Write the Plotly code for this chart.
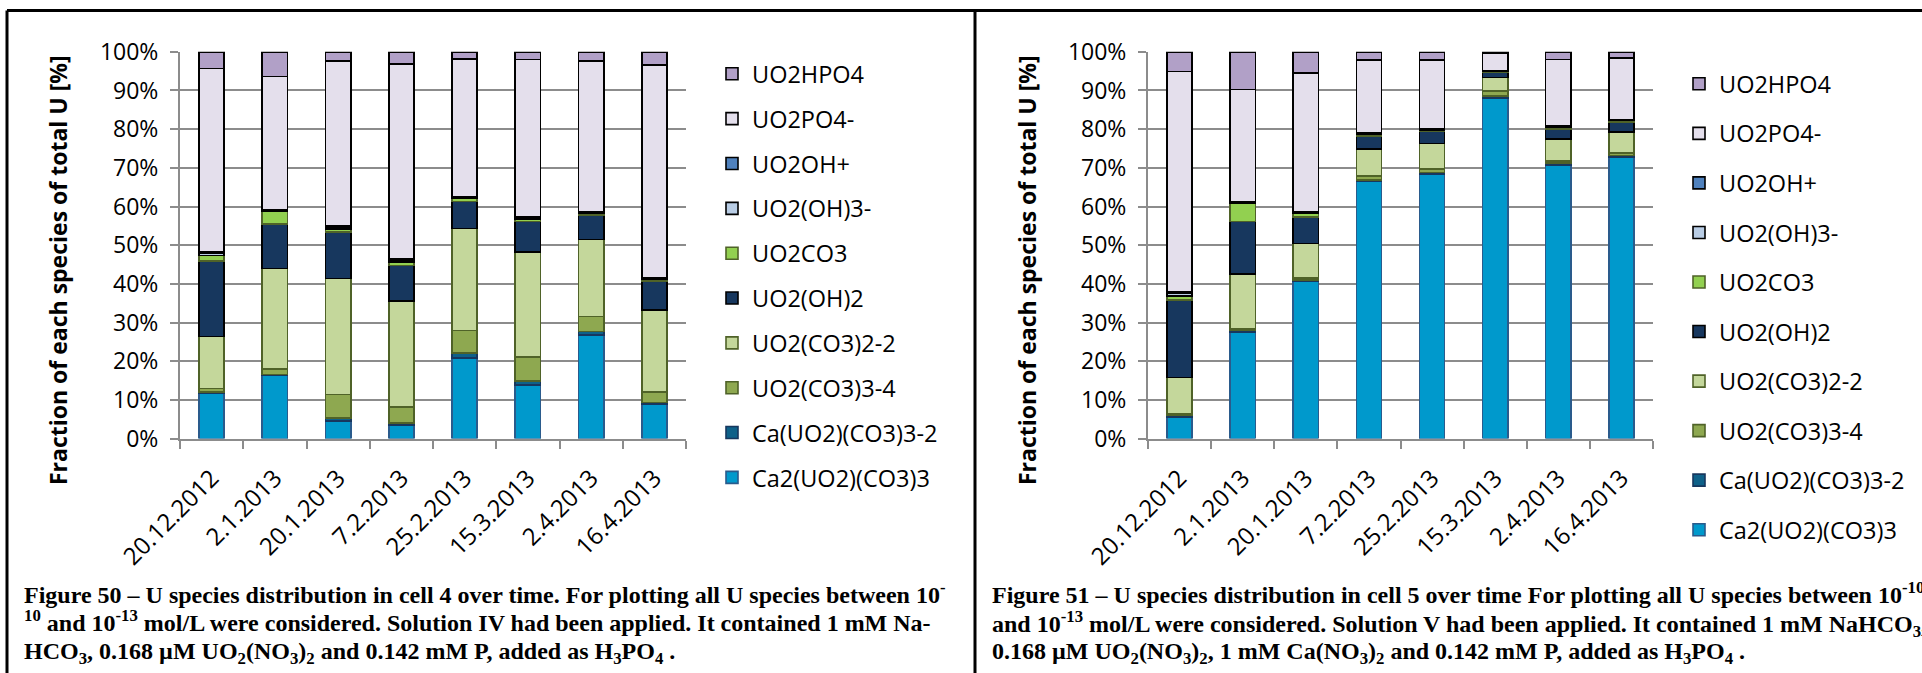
import plotly.graph_objects as go

W, H = 1922, 673

dates = ["20.12.2012", "2.1.2013", "20.1.2013", "7.2.2013", "25.2.2013",
         "15.3.2013", "2.4.2013", "16.4.2013"]

species = ["Ca2(UO2)(CO3)3", "Ca(UO2)(CO3)3-2", "UO2(CO3)3-4", "UO2(CO3)2-2",
           "UO2(OH)2", "UO2CO3", "UO2(OH)3-", "UO2OH+", "UO2PO4-", "UO2HPO4"]

fill_colors = ["#0099CC", "#0E6189", "#8EA850", "#C4D79B", "#17375E",
               "#92D050", "#B9CDE5", "#4F81BD", "#E4DFEC", "#B1A0C7"]
edge_colors = ["#2A5B8C", "#17375E", "#4F6228", "#4F6228", "#000000",
               "#4F6228", "#000000", "#000000", "#000000", "#000000"]

# Cell 4 – fraction of each species of total U [%]
cell4_ca2 = [11.8, 16.3, 4.6, 3.5, 20.9, 13.9, 26.8, 8.9]
cell4_ca1 = [0.3, 0.3, 0.8, 0.5, 1.3, 1.0, 0.9, 0.4]
cell4_co3_3 = [0.9, 1.4, 6.0, 4.1, 5.7, 6.2, 3.9, 2.8]
cell4_co3_2 = [13.4, 26.0, 30.0, 27.4, 26.4, 27.2, 19.9, 21.1]
cell4_oh2 = [19.5, 11.5, 12.0, 9.3, 7.0, 7.8, 6.3, 7.5]
cell4_uo2co3 = [1.4, 3.2, 0.8, 0.9, 0.8, 0.7, 0.5, 0.5]
cell4_oh3 = [0.7, 0.3, 0.5, 0.5, 0.3, 0.3, 0.2, 0.3]
cell4_ohp = [0.3, 0.2, 0.2, 0.3, 0.2, 0.2, 0.1, 0.1]
cell4_po4 = [47.4, 34.4, 42.8, 50.3, 35.6, 40.7, 39.1, 55.0]
cell4_hpo4 = [4.3, 6.4, 2.3, 3.2, 1.8, 2.0, 2.3, 3.4]

# Cell 5 – fraction of each species of total U [%]
cell5_ca2 = [5.6, 27.5, 40.6, 66.5, 68.4, 88.0, 70.7, 72.8]
cell5_ca1 = [0.5, 0.4, 0.4, 0.4, 0.4, 0.6, 0.5, 0.4]
cell5_co3_3 = [0.4, 0.4, 0.5, 1.0, 0.9, 1.2, 0.5, 0.7]
cell5_co3_2 = [9.3, 14.3, 8.9, 6.9, 6.6, 3.6, 5.7, 5.3]
cell5_oh2 = [20.0, 13.5, 6.9, 3.5, 3.1, 1.2, 2.7, 2.6]
cell5_uo2co3 = [1.1, 4.7, 1.0, 0.5, 0.4, 0.3, 0.5, 0.4]
cell5_oh3 = [0.7, 0.3, 0.3, 0.1, 0.2, 0.2, 0.2, 0.2]
cell5_ohp = [0.3, 0.1, 0.1, 0.1, 0.1, 0.1, 0.1, 0.1]
cell5_po4 = [57.0, 29.1, 35.8, 18.9, 17.8, 4.5, 17.1, 15.9]
cell5_hpo4 = [5.1, 9.7, 5.5, 2.1, 2.1, 0.3, 2.0, 1.6]

cell4 = [cell4_ca2, cell4_ca1, cell4_co3_3, cell4_co3_2, cell4_oh2,
         cell4_uo2co3, cell4_oh3, cell4_ohp, cell4_po4, cell4_hpo4]
cell5 = [cell5_ca2, cell5_ca1, cell5_co3_3, cell5_co3_2, cell5_oh2,
         cell5_uo2co3, cell5_oh3, cell5_ohp, cell5_po4, cell5_hpo4]

y_tick_vals = list(range(0, 101, 10))
y_tick_text = [f"{v}%" for v in y_tick_vals]

SANS = "Open Sans"
SERIF = "Liberation Serif"

# plot-area edges in pixels
PLOT_TOP, PLOT_BOTTOM = 51.8, 438.6
LEFT_X0, LEFT_X1 = 180, 686
RIGHT_X0, RIGHT_X1 = 1148, 1653


def px_x(x):
    return x / W


def px_y(y):
    return 1 - y / H


fig = go.Figure()

for cell, xa, ya, leg, tag in [(cell4, "x", "y", "legend", "L"),
                               (cell5, "x2", "y2", "legend2", "R")]:
    for i, (name, vals) in enumerate(zip(species, cell)):
        fig.add_trace(go.Bar(
            x=dates, y=vals, name=name, xaxis=xa, yaxis=ya,
            legend=leg, legendgroup=f"{tag}{i}", legendrank=100 - i,
            marker=dict(color=fill_colors[i],
                        line=dict(color=edge_colors[i], width=1.6)),
            hoverinfo="x+y+name",
        ))

grid = "#8C8C8C"
axis_common_x = dict(
    type="category", categoryorder="array", categoryarray=dates,
    showgrid=False, showline=True, linecolor=grid, linewidth=2,
    ticks="outside", ticklen=8, tickwidth=2, tickcolor=grid,
    tickson="boundaries", tickangle=-45, ticklabelstandoff=14,
    tickfont=dict(family=SANS, size=24, color="#000000"),
    fixedrange=True, automargin=False,
)
axis_common_y = dict(
    range=[0, 100], tickmode="array", tickvals=y_tick_vals, ticktext=y_tick_text,
    showgrid=True, gridcolor=grid, gridwidth=2,
    showline=True, linecolor=grid, linewidth=2,
    ticks="outside", ticklen=8, tickwidth=2, tickcolor=grid,
    ticklabelstandoff=7,
    tickfont=dict(family=SANS, size=23, color="#000000"),
    zeroline=False, fixedrange=True, automargin=False,
)

fig.update_layout(
    width=W, height=H,
    margin=dict(l=0, r=0, t=0, b=0, autoexpand=False),
    paper_bgcolor="white", plot_bgcolor="white",
    barmode="stack", bargap=0.6,
    showlegend=True,
    xaxis=dict(domain=[px_x(LEFT_X0), px_x(LEFT_X1)], anchor="y", **axis_common_x),
    yaxis=dict(domain=[px_y(PLOT_BOTTOM), px_y(PLOT_TOP)], anchor="x", **axis_common_y),
    xaxis2=dict(domain=[px_x(RIGHT_X0), px_x(RIGHT_X1)], anchor="y2", **axis_common_x),
    yaxis2=dict(domain=[px_y(PLOT_BOTTOM), px_y(PLOT_TOP)], anchor="x2", **axis_common_y),
    legend=dict(
        x=px_x(712), y=px_y(52), xanchor="left", yanchor="top",
        traceorder="grouped", tracegroupgap=11.3,
        font=dict(family=SANS, size=23.5, color="#000000"),
        bgcolor="rgba(0,0,0,0)",
    ),
    legend2=dict(
        x=px_x(1679), y=px_y(62), xanchor="left", yanchor="top",
        traceorder="grouped", tracegroupgap=16.0,
        font=dict(family=SANS, size=23.5, color="#000000"),
        bgcolor="rgba(0,0,0,0)",
    ),
)

# Panel frames
frame = dict(type="line", xref="paper", yref="paper",
             line=dict(color="#000000", width=3))
fig.add_shape(x0=px_x(7), x1=1, y0=px_y(10.5), y1=px_y(10.5), **frame)
fig.add_shape(x0=px_x(7), x1=px_x(7), y0=px_y(10.5), y1=0, **frame)
fig.add_shape(x0=px_x(975), x1=px_x(975), y0=px_y(10.5), y1=0, **frame)

# Y-axis titles
for xc in (58, 1027):
    fig.add_annotation(
        x=px_x(xc), y=px_y(270), xref="paper", yref="paper",
        text="<b>Fraction of each species of total U [%]</b>",
        textangle=-90, showarrow=False, xanchor="center", yanchor="middle",
        font=dict(family=SANS, size=23, color="#000000"),
    )

# Captions: each line placed by its own centre (super/subscripts shift the box)
caption_left = [
    ("<b>Figure 50 – U species distribution in cell 4 over time. For plotting all U species between 10<sup>-</sup></b>", 593),
    ("<b><sup>10</sup> and 10<sup>-13</sup> mol/L were considered. Solution IV had been applied. It contained 1 mM Na-</b>", 621),
    ("<b>HCO<sub>3</sub>, 0.168 µM UO<sub>2</sub>(NO<sub>3</sub>)<sub>2</sub> and 0.142 mM P, added as H<sub>3</sub>PO<sub>4</sub> .</b>", 652.5),
]
caption_right = [
    ("<b>Figure 51 – U species distribution in cell 5 over time For plotting all U species between 10<sup>-10</sup></b>", 593),
    ("<b>and 10<sup>-13</sup> mol/L were considered. Solution V had been applied. It contained 1 mM NaHCO<sub>3</sub>,</b>", 623.5),
    ("<b>0.168 µM UO<sub>2</sub>(NO<sub>3</sub>)<sub>2</sub>, 1 mM Ca(NO<sub>3</sub>)<sub>2</sub> and 0.142 mM P, added as H<sub>3</sub>PO<sub>4</sub> .</b>", 652.5),
]
for x0, lines in ((22, caption_left), (990, caption_right)):
    for txt, yc in lines:
        fig.add_annotation(
            x=px_x(x0), y=px_y(yc), xref="paper", yref="paper",
            text=txt, showarrow=False, xanchor="left", yanchor="middle",
            font=dict(family=SERIF, size=24, color="#000000"),
        )

fig.write_html("out.html")
